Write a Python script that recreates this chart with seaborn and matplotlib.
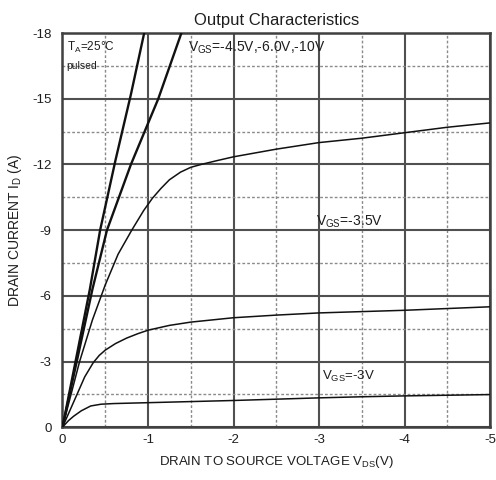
import matplotlib
matplotlib.use("Agg")
import matplotlib.pyplot as plt
import pandas as pd
import seaborn as sns
from matplotlib.ticker import MultipleLocator

# Drain current vs drain-source voltage, one array pair per gate voltage
vds_10v = [0, -0.32, -0.44, -0.62, -0.80, -0.955]
id_10v = [0, -6.3, -9.0, -12.2, -15.2, -18.0]

vds_6v = [0, -0.35, -0.52, -0.80, -1.12, -1.39]
id_6v = [0, -6.3, -9.0, -12.0, -15.0, -18.0]

vds_45v = [0, -0.2, -0.35, -0.5, -0.65, -0.81, -0.95, -1.05, -1.15, -1.25,
           -1.38, -1.5, -1.62, -1.8, -2.0, -2.5, -3.0, -3.5, -4.0, -4.5, -5.0]
id_45v = [0, -3.0, -4.9, -6.5, -7.9, -9.0, -9.9, -10.45, -10.9, -11.3,
          -11.65, -11.87, -12.0, -12.17, -12.35, -12.7, -13.0, -13.2, -13.45,
          -13.7, -13.9]

vds_35v = [0, -0.17, -0.26, -0.36, -0.43, -0.5, -0.62, -0.75, -0.88, -1.0,
           -1.25, -1.5, -2.0, -2.5, -3.0, -3.5, -4.0, -4.5, -5.0]
id_35v = [0, -1.5, -2.3, -2.95, -3.28, -3.52, -3.82, -4.07, -4.27, -4.43,
          -4.65, -4.8, -5.0, -5.12, -5.22, -5.28, -5.34, -5.42, -5.5]

vds_3v = [0, -0.07, -0.13, -0.22, -0.33, -0.45, -0.6, -1.0, -1.5, -2.0,
          -2.5, -3.0, -3.5, -4.0, -4.5, -5.0]
id_3v = [0, -0.3, -0.5, -0.75, -0.97, -1.05, -1.08, -1.12, -1.17, -1.22,
         -1.28, -1.34, -1.39, -1.43, -1.46, -1.49]

x_ticks = [0, -1, -2, -3, -4, -5]
y_ticks = [0, -3, -6, -9, -12, -15, -18]

curves = [
    (vds_10v, id_10v, 1.7),
    (vds_6v, id_6v, 1.7),
    (vds_45v, id_45v, 1.1),
    (vds_35v, id_35v, 1.1),
    (vds_3v, id_3v, 1.1),
]

sns.set_style("white")
plt.rcParams["font.family"] = ["Liberation Sans", "DejaVu Sans"]
plt.rcParams["mathtext.fontset"] = "custom"
plt.rcParams["mathtext.rm"] = "Liberation Sans"
plt.rcParams["mathtext.it"] = "Liberation Sans"

ink = "#1e1e1e"

fig = plt.figure(figsize=(4.96, 4.8), dpi=100)
ax = fig.add_axes([0.126, 0.110, 0.862, 0.821])

for vds, ids, lw in curves:
    df = pd.DataFrame({"vds": vds, "id": ids})
    sns.lineplot(data=df, x="vds", y="id", ax=ax, color="#111111",
                 linewidth=lw, sort=False, estimator=None, zorder=3)

ax.set_xlim(0, -5)
ax.set_ylim(0, -18)
ax.set_xticks(x_ticks)
ax.set_yticks(y_ticks)
ax.xaxis.set_minor_locator(MultipleLocator(0.5))
ax.yaxis.set_minor_locator(MultipleLocator(1.5))
ax.set_xticklabels([str(v) for v in x_ticks])
ax.set_yticklabels([str(v) for v in y_ticks])

ax.grid(which="major", color="#505050", linewidth=1.5, linestyle="-", zorder=1)
ax.grid(which="minor", color="#8a8a8a", linewidth=1.0, linestyle=(0, (2, 1.5)), zorder=1)
ax.set_axisbelow(True)
for s in ax.spines.values():
    s.set_color("#404040")
    s.set_linewidth(1.8)
ax.tick_params(which="both", length=0, labelsize=9.5, colors=ink)
ax.tick_params(axis="y", pad=8)
ax.tick_params(axis="x", pad=5)

ax.set_xlabel(r"DRAIN TO SOURCE VOLTAGE V$_{\mathrm{DS}}$(V)", fontsize=9.5,
              color=ink, labelpad=6)
ax.set_ylabel(r"DRAIN CURRENT I$_{\mathrm{D}}$ (A)", fontsize=10,
              color=ink, labelpad=6)
ax.set_title("Output Characteristics", fontsize=12, color=ink, pad=6)

ax.text(-0.05, -17.35, r"T$_{\mathrm{A}}$=25$\degree$C", fontsize=8.5, color=ink, va="center")
ax.text(-0.05, -16.5, "pulsed", fontsize=7.5, color=ink, va="center")
ax.text(-1.47, -17.35, r"V$_{\mathrm{GS}}$=-4.5V,-6.0V,-10V", fontsize=10,
        color=ink, va="center")
ax.text(-2.96, -9.4, r"V$_{\mathrm{GS}}$=-3.5V", fontsize=10, color=ink, va="center")
ax.text(-3.04, -2.3, r"V$_{\mathrm{GS}}$=-3V", fontsize=9.5, color=ink, va="center")

fig.savefig("out.png", dpi=100)
